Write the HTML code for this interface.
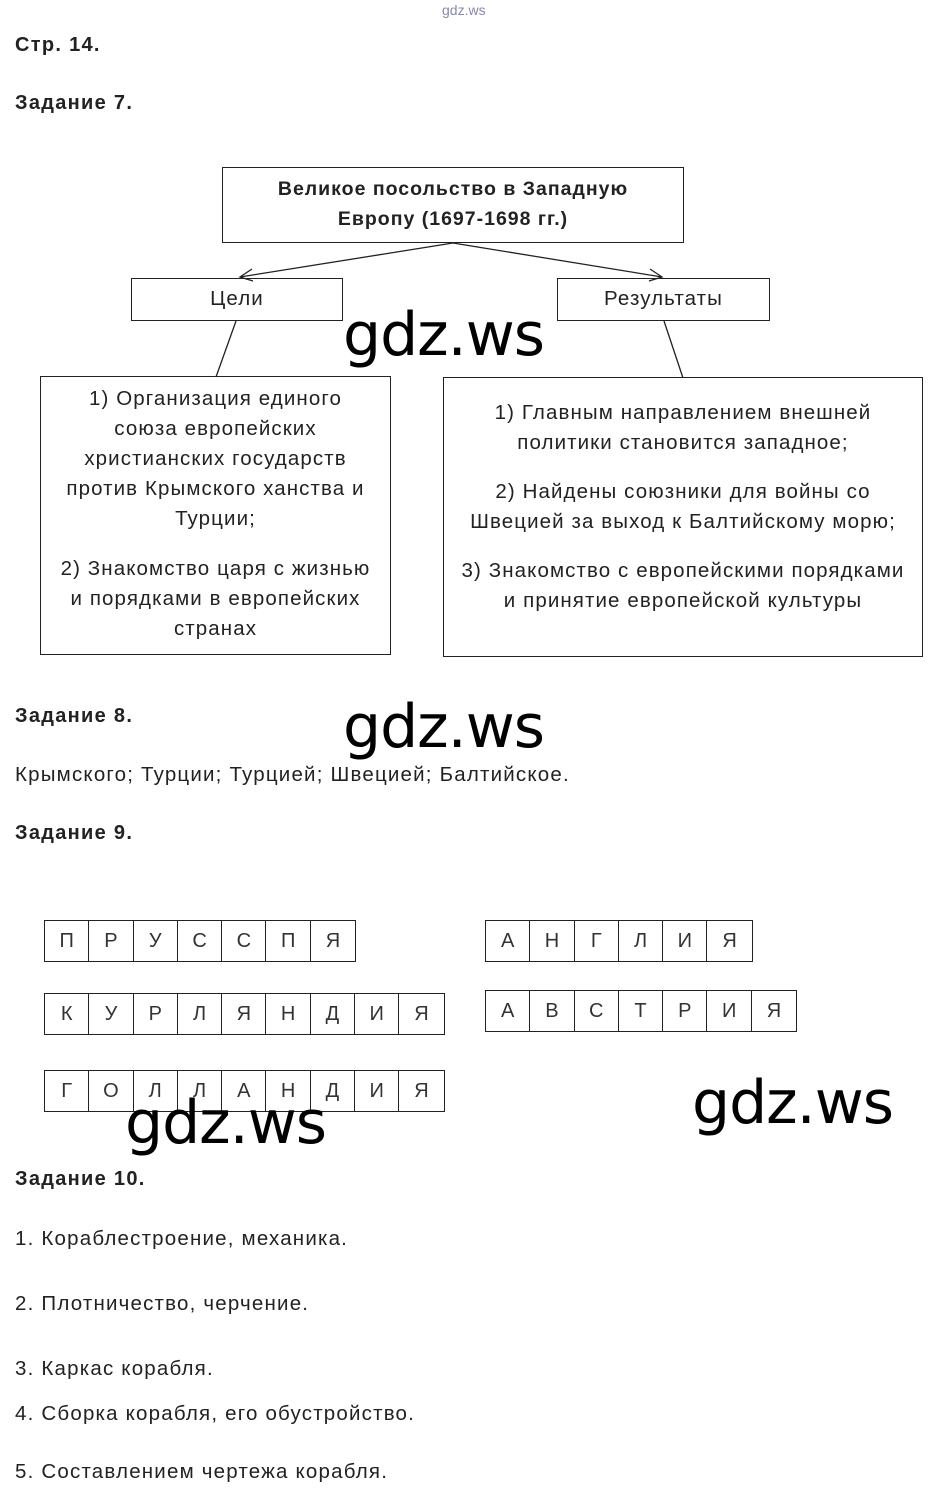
<!DOCTYPE html>
<html><head><meta charset="utf-8"><style>
body{margin:0;width:939px;height:1500px;background:#fff;position:relative;font-family:"Liberation Sans",Arial,sans-serif;color:#222;overflow:hidden}
.a{position:absolute;white-space:nowrap}
.h{font-weight:bold;font-size:20px;letter-spacing:1.3px}
.t{font-size:20.5px;letter-spacing:1.2px}
.box{position:absolute;border:1.5px solid #222;box-sizing:border-box;text-align:center;font-size:20.5px;letter-spacing:1.1px;line-height:30px;white-space:nowrap}
.wm{position:absolute;font-family:"DejaVu Sans",sans-serif;font-size:60px;color:#000;letter-spacing:-1px}
.row{position:absolute;display:flex;border:1.5px solid #222;height:42px;box-sizing:border-box}
.row span{width:44.3px;border-right:1.5px solid #222;box-sizing:border-box;text-align:center;line-height:40px;font-size:20px;color:#333}
.row span:last-child{border-right:none}
</style></head><body>
<div class="a" style="left:442px;top:2px;font-size:14px;color:#88a">gdz.ws</div>
<div class="a h" style="left:15px;top:34px">Стр. 14.</div>
<div class="a h" style="left:15px;top:92px">Задание 7.</div>

<div class="box" style="left:222px;top:167px;width:462px;height:76px;padding-top:6px;font-weight:bold;font-size:19.5px;letter-spacing:1px">Великое посольство в Западную<br>Европу (1697-1698 гг.)</div>
<div class="box" style="left:131px;top:278px;width:212px;height:43px;line-height:40px">Цели</div>
<div class="box" style="left:557px;top:278px;width:213px;height:43px;line-height:40px">Результаты</div>
<svg style="position:absolute;left:0;top:0" width="939" height="700">
<g stroke="#222" stroke-width="1.3" fill="none">
<line x1="453" y1="243" x2="240" y2="277"/><polyline points="252,269 240,277 253,281"/>
<line x1="453" y1="243" x2="662" y2="277"/><polyline points="650,269 662,277 649,281"/>
<line x1="236" y1="321" x2="216" y2="377"/>
<line x1="664" y1="321" x2="683" y2="378"/>
</g></svg>
<div class="box" style="left:40px;top:376px;width:351px;height:279px;padding-top:7px">1) Организация единого<br>союза европейских<br>христианских государств<br>против Крымского ханства и<br>Турции;<div style="height:20px"></div>2) Знакомство царя с жизнью<br>и порядками в европейских<br>странах</div>
<div class="box" style="left:443px;top:377px;width:480px;height:280px;padding-top:20px">1) Главным направлением внешней<br>политики становится западное;<div style="height:19px"></div>2) Найдены союзники для войны со<br>Швецией за выход к Балтийскому морю;<div style="height:19px"></div>3) Знакомство с европейскими порядками<br>и принятие европейской культуры</div>

<div class="wm" style="left:343px;top:300px">gdz.ws</div>
<div class="wm" style="left:343px;top:692px">gdz.ws</div>

<div class="a h" style="left:15px;top:705px">Задание 8.</div>
<div class="a t" style="left:15px;top:763px">Крымского; Турции; Турцией; Швецией; Балтийское.</div>
<div class="a h" style="left:15px;top:822px">Задание 9.</div>

<div class="row" style="left:44px;top:920px"><span>П</span><span>Р</span><span>У</span><span>С</span><span>С</span><span>П</span><span>Я</span></div>
<div class="row" style="left:44px;top:993px"><span>К</span><span>У</span><span>Р</span><span>Л</span><span>Я</span><span>Н</span><span>Д</span><span>И</span><span>Я</span></div>
<div class="row" style="left:44px;top:1070px"><span>Г</span><span>О</span><span>Л</span><span>Л</span><span>А</span><span>Н</span><span>Д</span><span>И</span><span>Я</span></div>
<div class="row" style="left:485px;top:920px"><span>А</span><span>Н</span><span>Г</span><span>Л</span><span>И</span><span>Я</span></div>
<div class="row" style="left:485px;top:990px"><span>А</span><span>В</span><span>С</span><span>Т</span><span>Р</span><span>И</span><span>Я</span></div>

<div class="wm" style="left:125px;top:1088px">gdz.ws</div>
<div class="wm" style="left:692px;top:1068px">gdz.ws</div>

<div class="a h" style="left:15px;top:1168px">Задание 10.</div>
<div class="a t" style="left:15px;top:1227px">1. Кораблестроение, механика.</div>
<div class="a t" style="left:15px;top:1292px">2. Плотничество, черчение.</div>
<div class="a t" style="left:15px;top:1357px">3. Каркас корабля.</div>
<div class="a t" style="left:15px;top:1402px">4. Сборка корабля, его обустройство.</div>
<div class="a t" style="left:15px;top:1460px">5. Составлением чертежа корабля.</div>
</body></html>
